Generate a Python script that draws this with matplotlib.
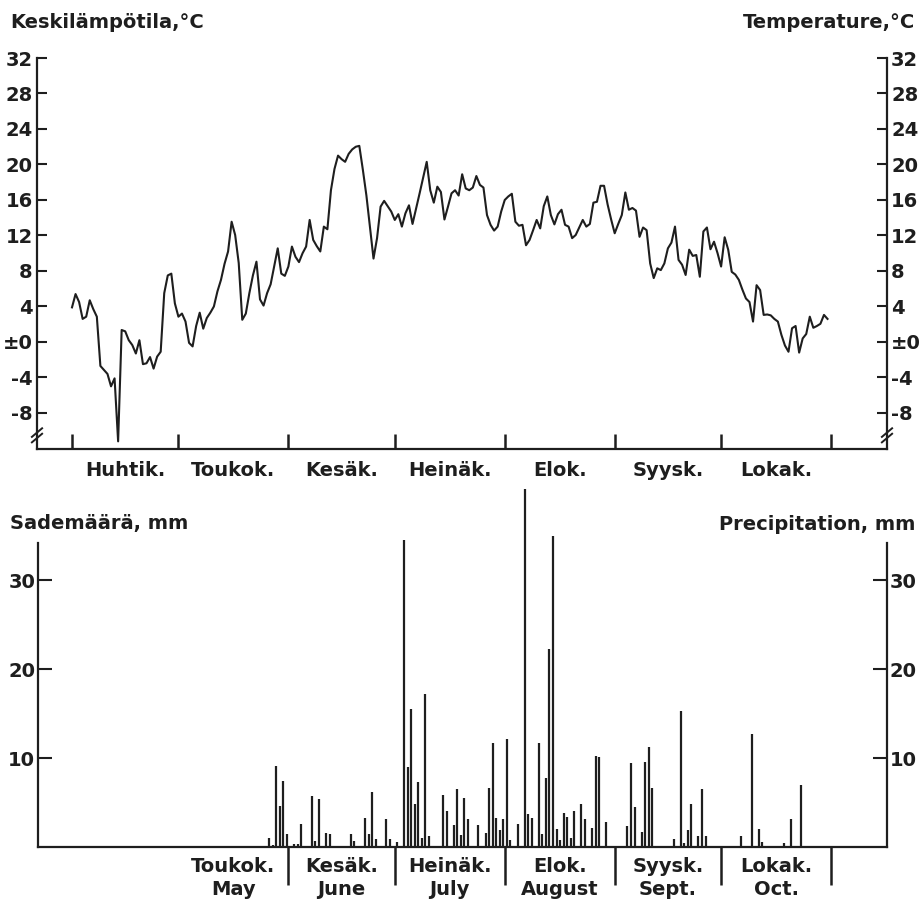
import numpy as np
import matplotlib
matplotlib.use('Agg')
import matplotlib.pyplot as plt

plt.rcParams['font.family'] = ['DejaVu Sans']
plt.rcParams['font.weight'] = 'bold'

# daily mean temperature, days counted from 1 April
temps = [
    3.9, 5.4, 4.5, 2.6, 2.85, 4.7, 3.7, 2.85, -2.7, -3.15,
    -3.6, -5.0, -4.1, -11.2, 1.35, 1.2, 0.2, -0.35, -1.3, 0.2,
    -2.5, -2.4, -1.7, -3.0, -1.65, -1.1, 5.5, 7.5, 7.7, 4.35,
    2.85, 3.2, 2.3, -0.1, -0.5, 1.8, 3.3, 1.5, 2.7, 3.3,
    4.0, 5.7, 7.0, 8.8, 10.2, 13.55, 12.05, 8.9, 2.5, 3.2,
    5.5, 7.5, 9.05, 4.8, 4.1, 5.5, 6.5, 8.5, 10.55, 7.7,
    7.45, 8.5, 10.75, 9.6, 9.0, 10.0, 10.75, 13.75, 11.5, 10.8,
    10.2, 13.0, 12.7, 17.1, 19.5, 21.0, 20.6, 20.3, 21.2, 21.7,
    22.0, 22.1, 19.4, 16.5, 13.0, 9.4, 11.7, 15.25, 15.9, 15.3,
    14.7, 13.75, 14.4, 13.0, 14.5, 15.4, 13.3, 15.0, 16.75, 18.5,
    20.3, 17.1, 15.7, 17.5, 16.9, 13.8, 15.25, 16.75, 17.1, 16.5,
    18.9, 17.3, 17.1, 17.4, 18.7, 17.7, 17.4, 14.3, 13.2, 12.55,
    13.0, 14.7, 16.0, 16.4, 16.7, 13.55, 13.1, 13.2, 10.9, 11.5,
    12.6, 13.75, 12.8, 15.3, 16.4, 14.3, 13.25, 14.4, 14.9, 13.2,
    13.0, 11.7, 12.05, 12.9, 13.75, 13.0, 13.3, 15.7, 15.8, 17.6,
    17.6, 15.5, 13.8, 12.25, 13.3, 14.3, 16.85, 14.9, 15.1, 14.8,
    11.85, 12.9, 12.6, 8.85, 7.2, 8.3, 8.1, 8.85, 10.55, 11.2,
    13.0, 9.25, 8.7, 7.55, 10.4, 9.7, 9.8, 7.35, 12.45, 12.9,
    10.45, 11.3, 10.0, 8.5, 11.8, 10.4, 7.9, 7.6, 7.0, 5.9,
    4.9, 4.5, 2.3, 6.4, 5.85, 3.05, 3.1, 3.0, 2.6, 2.3,
    0.8, -0.4, -1.1, 1.55, 1.8, -1.2, 0.4, 0.9, 2.85, 1.6,
    1.8, 2.05, 3.05, 2.6,
]

# daily precipitation (only rain days), day index from 1 April
rain_day = [55, 56, 57, 58, 59, 60, 62, 63, 64, 67, 68, 69, 71, 72, 78, 79,
            82, 83, 84, 85, 88, 89, 91, 93, 94, 95, 96, 97, 98, 99, 100,
            104, 105, 107, 108, 109, 110, 111, 114, 116, 117, 118, 119, 120,
            121, 122, 123, 125, 127, 128, 129, 131, 132, 133, 134, 135, 136,
            137, 138, 139, 140, 141, 143, 144, 146, 147, 148, 150, 156, 157,
            158, 160, 161, 162, 163, 169, 171, 172, 173, 174, 176, 177, 178,
            188, 191, 193, 194, 200, 202, 205]
rain_mm = [1.0, 0.2, 9.1, 4.6, 7.4, 1.5, 0.3, 0.3, 2.6, 5.7, 0.7, 5.4, 1.6, 1.5, 1.5, 0.7,
           3.3, 1.5, 6.2, 0.9, 3.1, 0.9, 0.6, 34.5, 9.0, 15.5, 4.8, 7.3, 1.05, 17.2, 1.2,
           5.8, 4.1, 2.5, 6.5, 1.4, 5.5, 3.1, 2.5, 1.6, 6.6, 11.7, 3.3, 1.9,
           3.2, 12.1, 0.8, 2.6, 40.3, 3.7, 3.3, 11.7, 1.5, 7.8, 22.3, 35.0, 2.0,
           0.8, 3.8, 3.4, 1.0, 4.0, 4.8, 3.2, 2.1, 10.2, 10.1, 2.85, 2.4, 9.4,
           4.5, 1.7, 9.6, 11.2, 6.6, 0.9, 15.3, 0.45, 1.9, 4.8, 1.2, 6.55, 1.2,
           1.2, 12.7, 2.0, 0.6, 0.4, 3.1, 7.0]

month_start = [0, 30, 61, 91, 122, 153, 183, 214]
top_months = ['Huhtik.', 'Toukok.', 'Kesäk.', 'Heinäk.', 'Elok.', 'Syysk.', 'Lokak.']
bottom_months = ['Toukok.\nMay', 'Kesäk.\nJune', 'Heinäk.\nJuly',
                 'Elok.\nAugust', 'Syysk.\nSept.', 'Lokak.\nOct.']
temp_ticks = [-8, -4, 0, 4, 8, 12, 16, 20, 24, 28, 32]
temp_labels = ['-8', '-4', '±0', '4', '8', '12', '16', '20', '24', '28', '32']
rain_ticks = [10, 20, 30]

INK = '#1e1e1e'
FS = 14

fig = plt.figure(figsize=(9.2, 9.07), dpi=100)

# ---- temperature panel
ax = fig.add_axes([37 / 920, 1 - 449 / 907, 850 / 920, 391 / 907])
ax.plot(np.arange(len(temps)), temps, color=INK, lw=1.5)
ax.set_xlim(-9.87, 229.77)
ax.set_ylim(-12.06, 32)
ax.spines['top'].set_visible(False)
for s in ['left', 'right', 'bottom']:
    ax.spines[s].set_linewidth(1.6)
    ax.spines[s].set_color(INK)
ax.set_yticks(temp_ticks)
ax.set_yticklabels(temp_labels)
ax.tick_params(axis='y', which='both', direction='in', length=7, width=1.5,
               left=True, right=True, labelleft=True, labelright=True,
               labelsize=FS, colors=INK, pad=3)
ax.set_xticks(month_start)
ax.set_xticklabels([])
ax.tick_params(axis='x', which='major', direction='in', length=11, width=1.8, colors=INK)
mids = [(month_start[i] + month_start[i + 1]) / 2 for i in range(7)]
ax.set_xticks(mids, minor=True)
ax.set_xticklabels(top_months, minor=True)
ax.tick_params(axis='x', which='minor', length=0, labelsize=FS, pad=9, colors=INK)

# axis break marks
for xa in [0, 1]:
    for dy in [0.028, 0.042]:
        ax.plot([xa - 0.006, xa + 0.006], [dy - 0.011, dy + 0.011],
                transform=ax.transAxes, color=INK, lw=1.4, clip_on=False)

fig.text(10 / 920, 1 - 22 / 907, 'Keskilämpötila,°C', fontsize=FS, color=INK, va='center', ha='left')
fig.text(915 / 920, 1 - 22 / 907, 'Temperature,°C', fontsize=FS, color=INK, va='center', ha='right')

# ---- precipitation panel
bx = fig.add_axes([38 / 920, 1 - 847 / 907, 849 / 920, 304 / 907])
bx.vlines(np.array(rain_day) + 0.6, 0, rain_mm, color=INK, lw=1.6, clip_on=False)
bx.set_xlim(-9.59, 229.77)
bx.set_ylim(0, 34.2)
bx.spines['top'].set_visible(False)
for s in ['left', 'right', 'bottom']:
    bx.spines[s].set_linewidth(1.6)
    bx.spines[s].set_color(INK)
bx.set_yticks(rain_ticks)
bx.tick_params(axis='y', which='both', direction='in', length=10, width=1.5,
               left=True, right=True, labelleft=True, labelright=True,
               labelsize=FS, colors=INK, pad=2)
bx.set_xticks(month_start[2:])
bx.set_xticklabels([])
bx.tick_params(axis='x', which='major', direction='out', length=27, width=1.8, colors=INK)
bmids = [(month_start[i] + month_start[i + 1]) / 2 for i in range(1, 7)]
bx.set_xticks(bmids, minor=True)
bx.set_xticklabels(bottom_months, minor=True, linespacing=1.3)
bx.tick_params(axis='x', which='minor', length=0, labelsize=FS, pad=7, colors=INK)

fig.text(10 / 920, 1 - 523 / 907, 'Sademäärä, mm', fontsize=FS, color=INK, va='center', ha='left')
fig.text(915 / 920, 1 - 525 / 907, 'Precipitation, mm', fontsize=FS, color=INK, va='center', ha='right')

fig.savefig('out.png', dpi=100, facecolor='white')
